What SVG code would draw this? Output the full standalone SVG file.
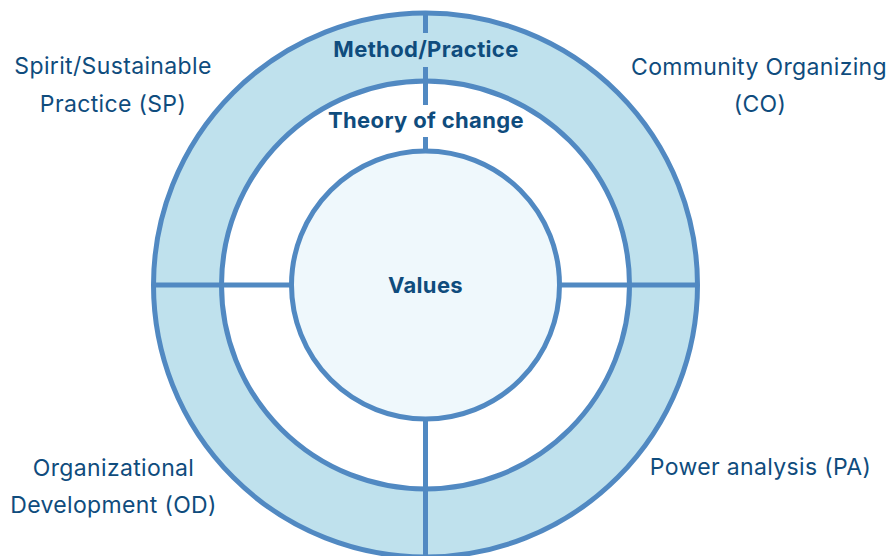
<svg xmlns="http://www.w3.org/2000/svg" width="888" height="556" viewBox="0 0 888 556">
<style>
.ring{stroke:#5189c2;stroke-width:5}
.ln{stroke:#5189c2;stroke-width:5;fill:none}
.b{font-family:Inter,"Noto Sans",sans-serif;font-weight:700;font-size:22px;letter-spacing:0.35px;fill:#0f4c7d;text-anchor:middle}
.r{font-family:Inter,"Noto Sans",sans-serif;font-weight:400;font-size:23px;letter-spacing:0.35px;fill:#0f4c7d;text-anchor:middle}
</style>
<rect width="888" height="556" fill="#ffffff"/>
<g id="outer-ring"><circle class="ring" cx="425.5" cy="285" r="272" fill="#bfe1ed"/></g>
<g id="middle-ring"><circle class="ring" cx="425.5" cy="285" r="204" fill="#ffffff"/></g>
<g id="values"><circle class="ring" cx="425.5" cy="285" r="134" fill="#eff8fc"/>
<text class="b" x="425.5" y="293">Values</text></g>
<g id="connectors">
<line class="ln" x1="425.5" y1="13" x2="425.5" y2="33"/>
<line class="ln" x1="425.5" y1="67" x2="425.5" y2="105"/>
<line class="ln" x1="425.5" y1="137" x2="425.5" y2="151"/>
<line class="ln" x1="153.5" y1="285" x2="291.5" y2="285"/>
<line class="ln" x1="559.5" y1="285" x2="697.5" y2="285"/>
<line class="ln" x1="425.5" y1="419" x2="425.5" y2="556"/>
</g>
<g id="method-practice"><text class="b" x="426" y="57">Method/Practice</text></g>
<g id="theory-of-change"><text class="b" x="426" y="128">Theory of change</text></g>
<g id="sp"><text class="r" x="113" y="74">Spirit/Sustainable</text><text class="r" x="113" y="112">Practice (SP)</text></g>
<g id="co"><text class="r" x="759" y="75">Community Organizing</text><text class="r" x="760" y="112">(CO)</text></g>
<g id="od"><text class="r" x="113.5" y="476">Organizational</text><text class="r" x="113.5" y="513">Development (OD)</text></g>
<g id="pa"><text class="r" x="760.5" y="475">Power analysis (PA)</text></g>
</svg>
